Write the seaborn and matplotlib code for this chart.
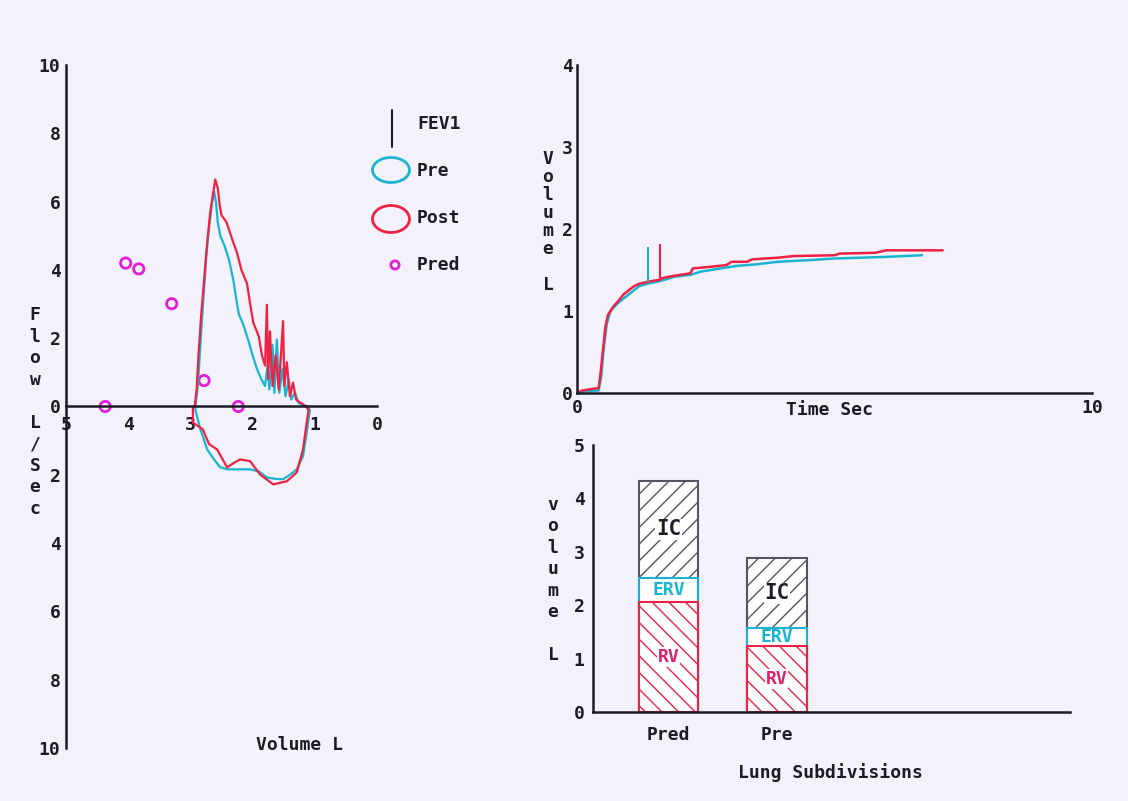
import numpy as np
import pandas as pd
import seaborn as sns
import matplotlib.pyplot as plt
from matplotlib.patches import Ellipse

sns.set_style('white')
plt.rcParams['font.family'] = ['DejaVu Sans Mono', 'DejaVu Sans']
plt.rcParams['font.weight'] = 'bold'
plt.rcParams['hatch.linewidth'] = 1.0

# flow-volume loop (volume L, flow L/s)
pre_loop_vol = [1.12, 1.08, 1.13, 1.19, 1.29, 1.40, 1.51, 1.62, 1.77, 1.90, 2.04, 2.20, 2.40, 2.52, 2.62, 2.73, 2.85, 2.92,
                2.92, 2.88, 2.84, 2.79, 2.74, 2.69, 2.65, 2.62, 2.59, 2.56, 2.52, 2.45, 2.38, 2.31, 2.25, 2.22, 2.15, 2.08,
                2.00, 1.93, 1.86, 1.80, 1.76, 1.73, 1.68, 1.65, 1.61, 1.57, 1.52, 1.47, 1.42, 1.38, 1.32, 1.26, 1.18, 1.12]
pre_loop_flow = [0.0, -0.1, -0.76, -1.46, -1.84, -2.0, -2.13, -2.12, -2.08, -1.9, -1.84, -1.84, -1.84, -1.78, -1.55, -1.26, -0.6, -0.1,
                 0.0, 0.6, 1.8, 3.2, 4.5, 5.4, 6.0, 6.3, 6.0, 5.4, 5.0, 4.7, 4.3, 3.7, 3.0, 2.7, 2.4, 2.0,
                 1.5, 1.1, 0.8, 0.6, 1.2, 0.5, 1.8, 0.4, 1.96, 0.4, 1.1, 0.3, 0.8, 0.2, 0.4, 0.1, 0.05, 0.0]
post_loop_vol = [1.14, 1.10, 1.13, 1.19, 1.29, 1.45, 1.67, 1.88, 2.04, 2.20, 2.30, 2.41, 2.57, 2.70, 2.80, 2.96, 2.96,
                 2.93, 2.90, 2.87, 2.83, 2.78, 2.73, 2.68, 2.63, 2.60, 2.56, 2.53, 2.50, 2.42, 2.31, 2.25, 2.18, 2.09, 2.03,
                 1.99, 1.90, 1.85, 1.80, 1.77, 1.75, 1.72, 1.68, 1.63, 1.58, 1.51, 1.49, 1.45, 1.40, 1.35, 1.30, 1.22, 1.14]
post_loop_flow = [0.0, -0.1, -0.47, -1.26, -1.93, -2.19, -2.28, -1.99, -1.6, -1.55, -1.65, -1.78, -1.26, -1.1, -0.67, -0.47, 0.0,
                  0.0, 0.5, 1.5, 2.6, 3.7, 4.8, 5.7, 6.3, 6.65, 6.4, 5.9, 5.6, 5.4, 4.8, 4.5, 4.0, 3.6, 2.9,
                  2.46, 2.05, 1.5, 1.2, 2.98, 0.8, 2.2, 0.6, 1.5, 0.5, 2.5, 0.6, 1.3, 0.3, 0.7, 0.2, 0.1, 0.0]
pred_vol = [4.37, 4.04, 3.83, 3.30, 2.78, 2.23]
pred_flow = [0.0, 4.2, 4.03, 3.01, 0.76, 0.0]

# volume-time curves
pre_time = [0, 0.1, 0.42, 0.47, 0.52, 0.58, 0.65, 0.8, 1.0, 1.1, 1.2, 1.35, 1.5, 1.7, 1.9, 2.2, 2.4, 2.7, 3.1,
            3.5, 3.9, 4.5, 5.0, 5.5, 6.0, 6.7]
pre_volume = [0, 0.02, 0.03, 0.2, 0.55, 0.85, 1.0, 1.1, 1.2, 1.25, 1.3, 1.33, 1.35, 1.38, 1.42, 1.44, 1.48, 1.51, 1.55,
              1.57, 1.60, 1.62, 1.64, 1.65, 1.66, 1.68]
post_time = [0, 0.1, 0.3, 0.42, 0.45, 0.5, 0.55, 0.6, 0.7, 0.8, 0.9, 1.0, 1.1, 1.2, 1.4, 1.6, 1.65, 1.8, 2.0, 2.2,
             2.25, 2.6, 2.9, 3.0, 3.3, 3.4, 3.9, 4.2, 5.0, 5.1, 5.8, 6.0, 7.1]
post_volume = [0, 0.03, 0.05, 0.06, 0.2, 0.5, 0.8, 0.95, 1.05, 1.12, 1.2, 1.25, 1.3, 1.33, 1.36, 1.38, 1.40, 1.42, 1.44,
               1.46, 1.52, 1.54, 1.56, 1.60, 1.60, 1.63, 1.65, 1.67, 1.68, 1.70, 1.71, 1.74, 1.74]
fev1_time = [1.38, 1.62]
fev1_low = [1.35, 1.38]
fev1_high = [1.78, 1.82]

# lung subdivisions
groups = ['Pred', 'Pre']
rv = [2.06, 1.24]
erv = [0.45, 0.33]
ic = [1.82, 1.31]

ink = '#1c1c28'
cyan = '#19b4d2'
red = '#ee2244'
magenta = '#e020d8'
fs = 13

fig = plt.figure(figsize=(11.28, 8.01), dpi=100)
fig.patch.set_facecolor('#f3f1f9')
W, H = 1128, 801


def box(x0, y0, x1, y1):
    return [x0 / W, 1 - y1 / H, (x1 - x0) / W, (y1 - y0) / H]


# ---- flow volume
ax1 = fig.add_axes(box(66, 65, 377, 748))
ax1.set_facecolor('none')
sns.lineplot(x=pre_loop_vol, y=pre_loop_flow, sort=False, estimator=None, color=cyan, lw=1.6, ax=ax1)
sns.lineplot(x=post_loop_vol, y=post_loop_flow, sort=False, estimator=None, color=red, lw=1.6, ax=ax1)
sns.scatterplot(x=pred_vol, y=pred_flow, marker='o', s=55, facecolor='none', edgecolor=magenta, linewidth=2, ax=ax1)
ax1.set_xlim(5, 0)
ax1.set_ylim(-10, 10)
for s in ['top', 'right']:
    ax1.spines[s].set_visible(False)
ax1.spines['bottom'].set_position(('data', 0))
ax1.spines['left'].set_position(('data', 5))
for s in ['bottom', 'left']:
    ax1.spines[s].set_color(ink)
    ax1.spines[s].set_linewidth(1.8)
ax1.set_yticks(range(-10, 11, 2))
ax1.set_yticklabels([str(abs(v)) for v in range(-10, 11, 2)])
ax1.set_xticks(range(0, 6))
ax1.tick_params(axis='y', direction='in', length=7, width=1.5, color=ink, labelsize=fs, pad=4, labelcolor=ink)
ax1.tick_params(axis='x', direction='inout', length=12, width=1.5, color=ink, labelsize=fs, pad=1, labelcolor=ink)
ax1.text(0.752, 0.005, 'Volume L', transform=ax1.transAxes, ha='center', va='center', fontsize=fs, color=ink)
fig.text(35 / W, 1 - 412 / H, '\n'.join('Flow L/Sec').replace(' ', ''), ha='center', va='center',
         fontsize=fs, color=ink, linespacing=1.25)

# legend
axl = fig.add_axes(box(360, 90, 500, 290))
axl.set_xlim(360, 500)
axl.set_ylim(290, 90)
axl.axis('off')
axl.plot([392, 392], [110, 147], color=ink, lw=1.5)
axl.add_patch(Ellipse((391, 170), 37, 25, fill=False, edgecolor=cyan, lw=2))
axl.add_patch(Ellipse((391, 219), 37, 27, fill=False, edgecolor=red, lw=2))
axl.scatter([395], [265], s=35, facecolor='none', edgecolor=magenta, linewidth=2)
for lab, yy in zip(['FEV1', 'Pre', 'Post', 'Pred'], [124, 171, 218, 265]):
    axl.text(417, yy, lab, ha='left', va='center', fontsize=fs, color=ink)

# ---- volume time
ax2 = fig.add_axes(box(577, 65, 1092, 393))
ax2.set_facecolor('none')
sns.lineplot(x=pre_time, y=pre_volume, sort=False, estimator=None, color=cyan, lw=1.8, ax=ax2)
sns.lineplot(x=post_time, y=post_volume, sort=False, estimator=None, color=red, lw=1.8, ax=ax2)
ax2.vlines(fev1_time, fev1_low, fev1_high, colors=[cyan, red], lw=1.5)
ax2.set_xlim(0, 10)
ax2.set_ylim(0, 4)
for s in ['top', 'right']:
    ax2.spines[s].set_visible(False)
for s in ['bottom', 'left']:
    ax2.spines[s].set_color(ink)
    ax2.spines[s].set_linewidth(1.8)
ax2.set_xticks(range(0, 11))
ax2.set_xticklabels(['0'] + [''] * 9 + ['10'])
ax2.set_yticks(range(0, 5))
ax2.tick_params(axis='y', direction='in', length=6, width=1.5, color=ink, labelsize=fs, pad=3, labelcolor=ink)
ax2.tick_params(axis='x', direction='in', length=6, width=1.5, color=ink, labelsize=fs, pad=4, labelcolor=ink)
ax2.text(0.491, -0.052, 'Time Sec', transform=ax2.transAxes, ha='center', va='center', fontsize=fs, color=ink)
fig.text(548 / W, 1 - 222 / H, 'V\no\nl\nu\nm\ne\n\nL', ha='center', va='center',
         fontsize=fs, color=ink, linespacing=1.0)

# ---- lung subdivisions
ax3 = fig.add_axes(box(593, 445, 1070, 712))
ax3.set_facecolor('none')
total = [a + b + c for a, b, c in zip(rv, erv, ic)]
mid = [a + b for a, b in zip(rv, erv)]
df = pd.DataFrame({'group': groups, 'total': total, 'mid': mid, 'rv': rv})
sns.barplot(data=df, x='group', y='total', color='white', edgecolor='#555560', hatch='//', linewidth=1.5,
            width=0.55, saturation=1, ax=ax3)
sns.barplot(data=df, x='group', y='mid', color='white', edgecolor=cyan, linewidth=1.5,
            width=0.55, saturation=1, ax=ax3)
sns.barplot(data=df, x='group', y='rv', color='white', edgecolor=red, hatch='\\\\', linewidth=1.5,
            width=0.55, saturation=1, ax=ax3)
for i in range(len(groups)):
    ax3.text(i, (mid[i] + total[i]) / 2, 'IC', ha='center', va='center', fontsize=fs + 2, color=ink,
             bbox=dict(facecolor='white', edgecolor='none', pad=0.5))
    ax3.text(i, (rv[i] + mid[i]) / 2, 'ERV', ha='center', va='center', fontsize=fs, color=cyan)
    ax3.text(i, rv[i] / 2, 'RV', ha='center', va='center', fontsize=fs, color='#e0206a',
             bbox=dict(facecolor='white', edgecolor='none', pad=0.5))
ax3.set_xlim(-0.7, 3.71)
ax3.set_ylim(0, 5)
ax3.set_xlabel('')
ax3.set_ylabel('')
for s in ['top', 'right']:
    ax3.spines[s].set_visible(False)
for s in ['bottom', 'left']:
    ax3.spines[s].set_color(ink)
    ax3.spines[s].set_linewidth(1.8)
ax3.set_yticks(range(0, 6))
ax3.tick_params(axis='y', direction='in', length=6, width=1.5, color=ink, labelsize=fs, pad=6, labelcolor=ink)
ax3.tick_params(axis='x', length=0, labelsize=fs, pad=10, labelcolor=ink)
ax3.text(0.497, -0.225, 'Lung Subdivisions', transform=ax3.transAxes, ha='center', va='center', fontsize=fs, color=ink)
fig.text(553 / W, 1 - 580 / H, 'v\no\nl\nu\nm\ne\n\nL', ha='center', va='center',
         fontsize=fs, color=ink, linespacing=1.25)

fig.savefig('out.png', dpi=100, facecolor=fig.get_facecolor())
